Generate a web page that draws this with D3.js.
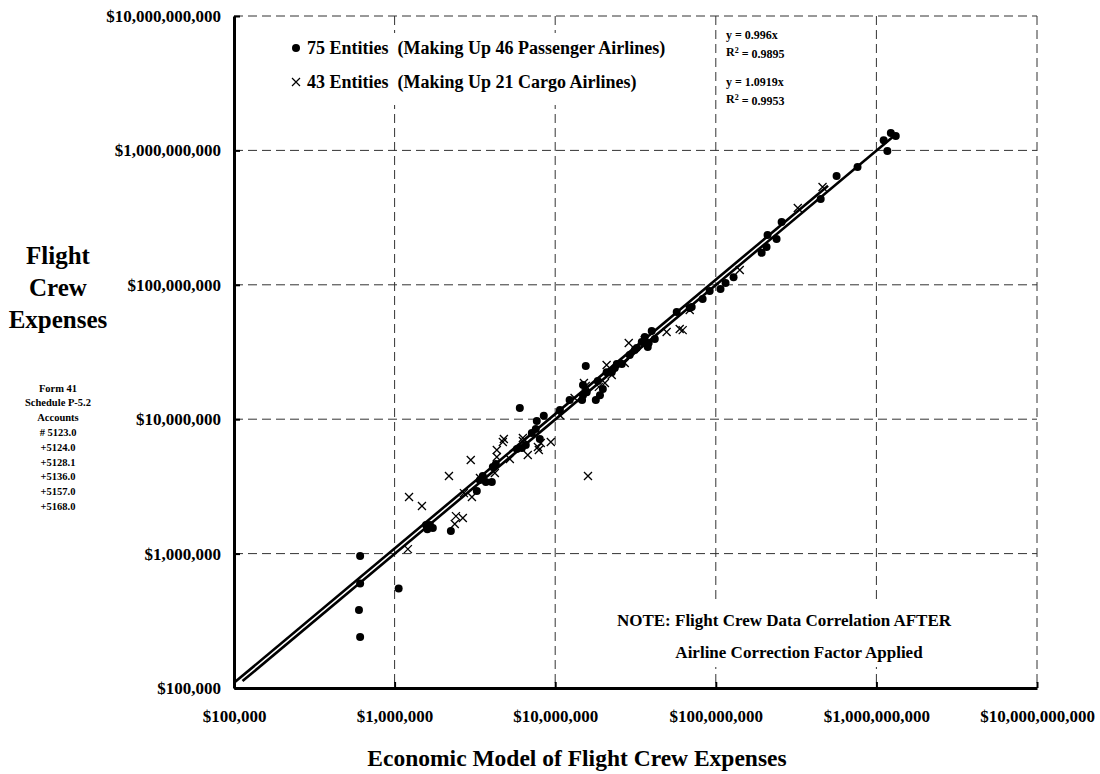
<!DOCTYPE html>
<html>
<head>
<meta charset="utf-8">
<script src="https://cdn.jsdelivr.net/npm/d3@7"></script>
<style>
  html, body { margin: 0; padding: 0; background: #fff; }
  svg { display: block; font-family: "Liberation Serif", "Times New Roman", serif; font-weight: bold; }
</style>
</head>
<body>
<svg id="chart" width="1100" height="774"></svg>
<script>
// ---------- DATA ----------
const tickValues = [1e5, 1e6, 1e7, 1e8, 1e9, 1e10];

// 75 entities (46 passenger airlines): [model, actual]
const passengerModel = [
  6.1e5, 6.1e5, 6.0e5, 6.1e5, 1.06e6, 1.57e6, 1.60e6, 1.73e6, 2.24e6, 3.25e6,
  3.54e6, 3.70e6, 4.03e6, 4.09e6, 4.27e6, 6.02e6, 5.77e6, 6.2e6, 7.15e6, 7.57e6,
  7.68e6, 8.49e6, 8.02e6, 1.23e7, 1.47e7, 1.49e7, 1.57e7, 1.79e7, 1.84e7, 1.98e7,
  1.55e7, 2.35e7, 2.42e7, 2.60e7, 2.25e7, 3.13e7, 3.22e7, 3.61e7, 3.77e7, 3.99e7,
  4.17e7, 3.82e7, 5.71e7, 6.88e7, 8.28e7, 9.16e7, 1.07e8, 1.15e8, 1.29e8, 1.93e8,
  2.07e8, 2.10e8, 2.39e8, 2.57e8, 4.50e8, 5.65e8, 7.63e8, 1.11e9, 1.17e9, 1.23e9,
  1.32e9, 1.49e7, 2.09e7, 1.90e7, 6.56e6, 3.40e6, 1.66e6, 7.08e7, 1.07e7, 2.91e7,
  3.46e7
];
const passengerActual = [
  9.6e5, 6.0e5, 3.8e5, 2.4e5, 5.5e5, 1.63e6, 1.52e6, 1.55e6, 1.47e6, 2.92e6,
  3.78e6, 3.41e6, 3.41e6, 4.41e6, 4.64e6, 1.21e7, 6.0e6, 6.1e6, 7.9e6, 8.46e6,
  9.7e6, 1.06e7, 7.12e6, 1.39e7, 1.39e7, 1.51e7, 1.59e7, 1.39e7, 1.92e7, 1.68e7,
  2.49e7, 2.40e7, 2.58e7, 2.58e7, 2.24e7, 3.27e7, 3.39e7, 4.09e7, 3.44e7, 4.53e7,
  3.95e7, 3.69e7, 6.28e7, 6.72e7, 7.84e7, 9.0e7, 9.31e7, 1.03e8, 1.14e8, 1.73e8,
  1.91e8, 2.35e8, 2.19e8, 2.93e8, 4.35e8, 6.46e8, 7.52e8, 1.19e9, 9.9e8, 1.35e9,
  1.28e9, 1.80e7, 2.24e7, 1.51e7, 6.43e6, 3.53e6, 1.63e6, 6.84e7, 1.17e7, 3.0e7,
  3.75e7
];

// 43 entities (21 cargo airlines): [model, actual]
const cargoModel = [
  1.21e6, 1.23e6, 1.48e6, 2.18e6, 2.98e6, 2.41e6, 2.66e6, 2.37e6, 3.03e6, 2.70e6,
  4.21e6, 4.33e6, 4.72e6, 4.33e6, 5.22e6, 6.29e6, 6.75e6, 7.91e6, 8.13e6, 9.39e6,
  1.60e7, 1.51e7, 1.55e7, 2.09e7, 1.87e7, 2.71e7, 2.87e7, 4.94e7, 5.96e7, 6.22e7,
  3.24e8, 4.62e8, 7.8e6, 4.79e6, 6.29e6, 2.04e7, 2.25e7, 3.61e7, 6.88e7, 1.41e8,
  1.07e7, 3.4e6, 1.32e7
];
const cargoActual = [
  1.08e6, 2.64e6, 2.26e6, 3.78e6, 4.97e6, 1.90e6, 1.84e6, 1.66e6, 2.64e6, 2.82e6,
  3.98e6, 5.90e6, 6.77e6, 5.23e6, 5.06e6, 6.88e6, 5.42e6, 5.90e6, 6.65e6, 6.77e6,
  3.78e6, 1.86e7, 1.77e7, 2.53e7, 1.74e7, 2.62e7, 3.69e7, 4.46e7, 4.69e7, 4.6e7,
  3.73e8, 5.34e8, 6.21e6, 7.12e6, 7.25e6, 1.86e7, 2.13e7, 3.88e7, 6.49e7, 1.29e8,
  1.07e7, 3.65e6, 1.44e7
];

// regression fits: slope and x-extent
const fitSlopes = [0.996, 1.0919];
const fitStart  = [1.13e5, 1.0e5];
const fitEnd    = [1.33e9, 5.0e8];

const legendLabels = ["75 Entities  (Making Up 46 Passenger Airlines)", "43 Entities  (Making Up 21 Cargo Airlines)"];
const fitEquations = ["y = 0.996x", "0.9895", "y = 1.0919x", "0.9953"];
const yTitleLines = ["Flight", "Crew", "Expenses"];
const ySubLines = ["Form 41", "Schedule P-5.2", "Accounts", "# 5123.0", "+5124.0", "+5128.1", "+5136.0", "+5157.0", "+5168.0"];
const noteLines = ["NOTE: Flight Crew Data Correlation AFTER", "Airline Correction Factor Applied"];
const xTitle = "Economic Model of Flight Crew Expenses";

// ---------- CHART ----------
const svg = d3.select("#chart");
const L = 234, R = 1037, T = 16, B = 688;
const x = d3.scaleLog().domain([1e5, 1e10]).range([L, R]);
const y = d3.scaleLog().domain([1e5, 1e10]).range([B, T]);
const money = v => "$" + d3.format(",")(v);

// gridlines
const grid = svg.append("g").attr("stroke", "#333").attr("stroke-width", 1).attr("stroke-dasharray", "9,5");
grid.selectAll("line.v").data(tickValues.slice(1)).join("line")
  .attr("x1", d => x(d)).attr("x2", d => x(d)).attr("y1", T).attr("y2", B);
grid.selectAll("line.h").data(tickValues.slice(1)).join("line")
  .attr("x1", L).attr("x2", R).attr("y1", d => y(d)).attr("y2", d => y(d));

// white boxes behind legend and note
svg.append("rect").attr("x", 284).attr("y", 33).attr("width", 400).attr("height", 72).attr("fill", "#fff");
svg.append("rect").attr("x", 600).attr("y", 600).attr("width", 400).attr("height", 67).attr("fill", "#fff");

// fit lines
const lineGen = d3.line().x(d => x(d[0])).y(d => y(d[1]));
fitSlopes.forEach((s, i) => {
  svg.append("path")
    .attr("d", lineGen([[fitStart[i], fitStart[i] * s], [fitEnd[i], fitEnd[i] * s]]))
    .attr("stroke", "#000").attr("stroke-width", 2.6).attr("fill", "none");
});

// points
const crossPath = "M-4,-4L4,4M-4,4L4,-4";
svg.append("g").selectAll("path").data(d3.range(cargoModel.length)).join("path")
  .attr("transform", i => `translate(${x(cargoModel[i])},${y(cargoActual[i])})`)
  .attr("d", crossPath).attr("stroke", "#000").attr("stroke-width", 1.3).attr("fill", "none");
svg.append("g").selectAll("circle").data(d3.range(passengerModel.length)).join("circle")
  .attr("cx", i => x(passengerModel[i])).attr("cy", i => y(passengerActual[i]))
  .attr("r", 4).attr("fill", "#000");

// axes
const xAxis = d3.axisBottom(x).tickValues(tickValues).tickFormat(money)
  .tickSizeInner(-6).tickSizeOuter(0).tickPadding(22);
const yAxis = d3.axisLeft(y).tickValues(tickValues).tickFormat(money)
  .tickSizeInner(-6).tickSizeOuter(0).tickPadding(13);
const gx = svg.append("g").attr("transform", `translate(0,${B})`).call(xAxis);
const gy = svg.append("g").attr("transform", `translate(${L},0)`).call(yAxis);
[gx, gy].forEach(g => {
  g.select(".domain").attr("stroke", "#000").attr("stroke-width", 3);
  g.selectAll(".tick line").attr("stroke", "#000").attr("stroke-width", 2);
  g.selectAll(".tick text").attr("fill", "#000")
    .style("font-family", "'Liberation Serif', serif").style("font-weight", "bold").style("font-size", "17px");
});

// legend
const lg = svg.append("g");
lg.append("circle").attr("cx", 296).attr("cy", 48).attr("r", 4).attr("fill", "#000");
lg.append("path").attr("transform", "translate(296,82)").attr("d", crossPath)
  .attr("stroke", "#000").attr("stroke-width", 1.2).attr("fill", "none");
legendLabels.forEach((t, i) => {
  lg.append("text").attr("x", 307).attr("y", 48 + i * 34).attr("dy", "0.35em")
    .attr("font-size", 18).style("white-space", "pre").text(t);
});

// fit equations
const eq = svg.append("g").attr("font-size", 12);
[0, 1].forEach(i => {
  const y0 = 35 + i * 47;
  eq.append("text").attr("x", 726).attr("y", y0).attr("dy", "0.35em").text(fitEquations[i * 2]);
  const r = eq.append("text").attr("x", 726).attr("y", y0 + 17).attr("dy", "0.35em");
  r.append("tspan").text("R");
  r.append("tspan").attr("dy", "-0.4em").attr("font-size", 8).text("2");
  r.append("tspan").attr("dy", "0.4em").text(" = " + fitEquations[i * 2 + 1]);
});

// note
noteLines.forEach((t, i) => {
  svg.append("text").attr("x", i === 0 ? 784 : 799).attr("y", 620 + i * 32).attr("dy", "0.35em")
    .attr("text-anchor", "middle").attr("font-size", 17).text(t);
});

// y title
yTitleLines.forEach((t, i) => {
  svg.append("text").attr("x", 58).attr("y", 255 + i * 32).attr("dy", "0.35em")
    .attr("text-anchor", "middle").attr("font-size", 25).text(t);
});
ySubLines.forEach((t, i) => {
  svg.append("text").attr("x", 58).attr("y", 388 + i * 14.8).attr("dy", "0.35em")
    .attr("text-anchor", "middle").attr("font-size", 10.5).text(t);
});

// x title
svg.append("text").attr("x", 577).attr("y", 758).attr("dy", "0.35em")
  .attr("text-anchor", "middle").attr("font-size", 23.5).text(xTitle);
</script>
</body>
</html>
